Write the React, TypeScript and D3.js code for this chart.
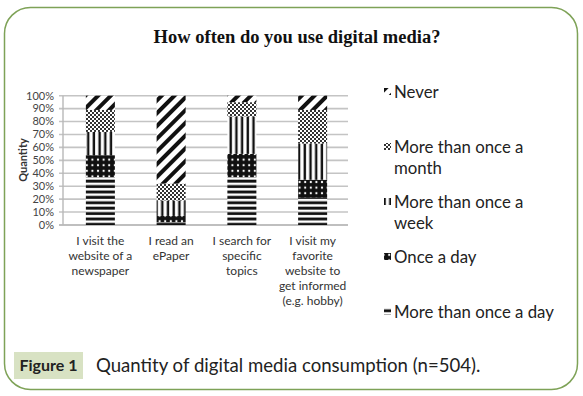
import React from "react";
import * as d3 from "d3";

// answers per statement, in percent, stacked bottom to top
const categories = ["newspaper", "ePaper", "search", "favorite"];
const categoryLines = [
  ["I visit the", "website of a", "newspaper"],
  ["I read an", "ePaper"],
  ["I search for", "specific", "topics"],
  ["I visit my", "favorite", "website to", "get informed", "(e.g. hobby)"],
];
const moreThanOnceADay = [37, 2, 37, 21];
const onceADay = [17, 5, 18, 14];
const moreThanOnceAWeek = [18, 12, 29, 28];
const moreThanOnceAMonth = [17, 13, 11, 26];
const never = [11, 68, 5, 11];

const seriesKeys = ["day2", "day", "week", "month", "never"];
const seriesValues = [moreThanOnceADay, onceADay, moreThanOnceAWeek, moreThanOnceAMonth, never];
const legendLabels = [
  ["Never"],
  ["More than once a", "month"],
  ["More than once a", "week"],
  ["Once a day"],
  ["More than once a day"],
];
const legendKeys = ["never", "month", "week", "day", "day2"];
const yTicks = [0, 10, 20, 30, 40, 50, 60, 70, 80, 90, 100];

const W = 583;
const H = 396;
const sans = "Lato, 'Open Sans', sans-serif";

function Patterns() {
  return (
    <defs>
      <pattern id="p-never" width="9" height="9" patternUnits="userSpaceOnUse" patternTransform="rotate(45)">
        <rect width="9" height="9" fill="#fff" />
        <rect width="4" height="9" fill="#111" />
      </pattern>
      <pattern id="p-month" width="4" height="4" patternUnits="userSpaceOnUse">
        <rect width="4" height="4" fill="#fff" />
        <rect width="2" height="2" fill="#333" />
        <rect x="2" y="2" width="2" height="2" fill="#333" />
      </pattern>
      <pattern id="p-week" width="5.7" height="6" patternUnits="userSpaceOnUse">
        <rect width="5.7" height="6" fill="#fff" />
        <rect x="1.5" width="2.4" height="6" fill="#111" />
      </pattern>
      <pattern id="p-day" width="5.6" height="5.6" patternUnits="userSpaceOnUse">
        <rect width="5.6" height="5.6" fill="#111" />
        <circle cx="2.8" cy="2.8" r="1.1" fill="#fff" />
      </pattern>
      <pattern id="p-day2" width="6" height="5.4" patternUnits="userSpaceOnUse">
        <rect width="6" height="5.4" fill="#fff" />
        <rect y="1.5" width="6" height="2.9" fill="#111" />
      </pattern>
    </defs>
  );
}

export default function App() {
  const table = categories.map((c, i) => {
    const row: Record<string, any> = { cat: c };
    seriesKeys.forEach((k, j) => (row[k] = seriesValues[j][i]));
    return row;
  });
  const stacked = d3.stack<any>().keys(seriesKeys)(table);

  const x = d3.scaleBand().domain(categories).range([65, 348]).paddingInner(0.59).paddingOuter(0.295);
  const y = d3.scaleLinear().domain([0, 100]).range([225, 95.7]);
  const gridLeft = 63;
  const gridRight = 348;

  return (
    <svg width={W} height={H} style={{ position: "absolute", left: 0, top: 0 }}>
      <Patterns />
      <rect x={0} y={0} width={W} height={H} fill="#fff" />
      <rect x={4.5} y={7.5} width={573} height={382} rx={26} ry={26} fill="none" stroke="#7ea257" strokeWidth={1.5} />

      <text x={297} y={43} textAnchor="middle" fontFamily="'Liberation Serif', serif" fontWeight="bold" fontSize={18.5} fill="#111">
        How often do you use digital media?
      </text>

      {yTicks.map((t) => (
        <g key={t}>
          <line x1={59} x2={gridRight} y1={y(t)} y2={y(t)} stroke={t === 0 ? "#aaa" : "#c4c4c4"} strokeWidth={1.6} />
          <text x={54} y={y(t)} dy="0.35em" textAnchor="end" fontFamily={sans} fontSize={11} fill="#444">
            {t}%
          </text>
        </g>
      ))}
      <line x1={gridLeft} x2={gridLeft} y1={y(100)} y2={y(0)} stroke="#b8b8b8" strokeWidth={1.4} />
      <text transform="translate(27,160) rotate(-90)" textAnchor="middle" fontFamily={sans} fontWeight="bold" fontSize={11} fill="#333">
        Quantity
      </text>

      {stacked.map((s) => (
        <g key={s.key} fill={`url(#p-${s.key})`}>
          {s.map((d, i) => (
            <rect
              key={i}
              x={x(categories[i])}
              y={y(d[1])}
              width={x.bandwidth()}
              height={y(d[0]) - y(d[1])}
            />
          ))}
        </g>
      ))}

      {categories.map((c, i) => (
        <text key={c} textAnchor="middle" fontFamily={sans} fontSize={12} fill="#333">
          {categoryLines[i].map((ln, j) => (
            <tspan key={j} x={(x(c) as number) + x.bandwidth() / 2} y={244.5 + j * 15.2}>
              {ln}
            </tspan>
          ))}
        </text>
      ))}

      {legendKeys.map((k, i) => {
        const cy = 92 + i * 55;
        return (
          <g key={k}>
            <rect x={384} y={cy - 4} width={7} height={7} fill={`url(#p-${k})`} />
            <text fontFamily={sans} fontSize={16.8} fill="#222">
              {legendLabels[i].map((ln, j) => (
                <tspan key={j} x={394} y={cy + 5.5 + j * 21}>
                  {ln}
                </tspan>
              ))}
            </text>
          </g>
        );
      })}

      <rect x={14} y={352} width={69} height={27} fill="#d8e2c3" />
      <text x={48.5} y={371} textAnchor="middle" fontFamily={sans} fontWeight="bold" fontSize={16} fill="#222">
        Figure 1
      </text>
      <text x={96} y={371.5} fontFamily={sans} fontSize={18.6} fill="#222">
        Quantity of digital media consumption (n=504).
      </text>
    </svg>
  );
}
